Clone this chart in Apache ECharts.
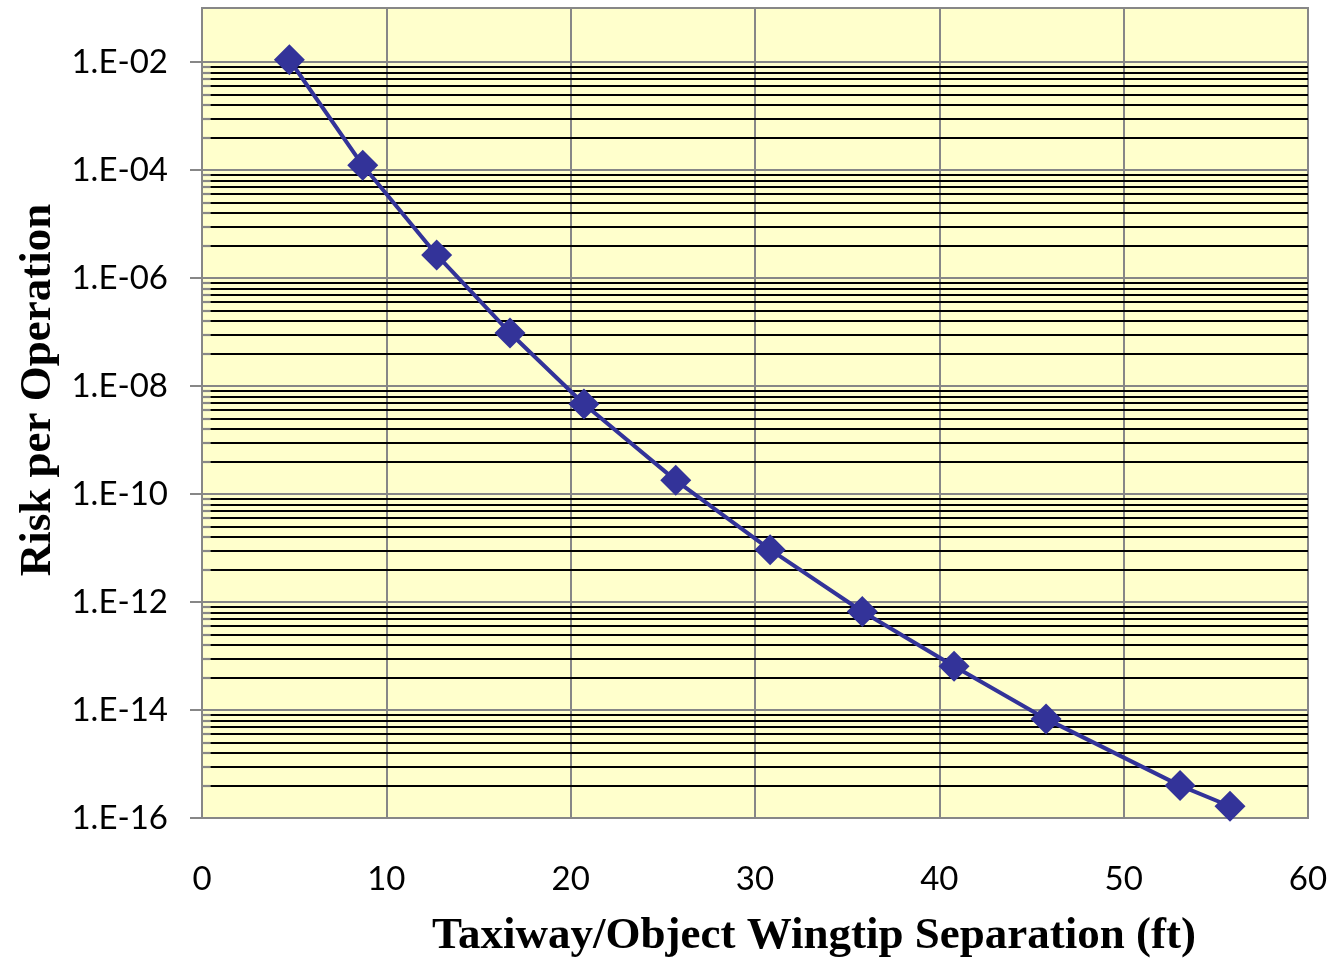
<!DOCTYPE html>
<html>
<head>
<meta charset="utf-8">
<script src="https://cdn.jsdelivr.net/npm/echarts@6/dist/echarts.min.js"></script>
<style>
  html, body { margin: 0; padding: 0; background: #ffffff; }
  #chart { width: 1332px; height: 960px; }
</style>
</head>
<body>
<div id="chart"></div>
<script>
// ---- data ----
var separationFt = [4.74, 8.72, 12.73, 16.71, 20.72, 25.7, 30.82, 35.82, 40.8, 45.79, 53.06, 55.77];
var riskPerOperation = [1.1e-2, 1.22e-4, 2.67e-6, 9.6e-8, 4.64e-9, 1.79e-10, 9.3e-12, 6.67e-13, 6.47e-14, 6.84e-15, 3.98e-16, 1.65e-16];
var yMajorTicks = [1e-16, 1e-14, 1e-12, 1e-10, 1e-8, 1e-6, 1e-4, 1e-2];
var minorMultipliers = [4, 9, 16, 25, 36, 49, 64, 81];
var minorBandBases = [1e-16, 1e-14, 1e-12, 1e-10, 1e-8, 1e-6, 1e-4];
var xTickLabels = [0, 10, 20, 30, 40, 50, 60];

var GRAY = '#878787';
var pts = separationFt.map(function (x, i) { return [x, riskPerOperation[i]]; });

var minorValues = [];
minorBandBases.forEach(function (b) {
  minorMultipliers.forEach(function (m) { minorValues.push(b * m); });
});
var minorLines = [];
minorValues.forEach(function (v) {
  minorLines.push([{ xAxis: 0.45, yAxis: v }, { xAxis: 60, yAxis: v }]);
});
var minorTicks = [];
minorValues.forEach(function (v) {
  minorTicks.push([{ xAxis: 0, yAxis: v, lineStyle: { color: GRAY } }, { xAxis: 0.45, yAxis: v }]);
});

function fmtY(v) {
  var e = Math.round(Math.log10(v));
  var s = String(Math.abs(e));
  if (s.length < 2) s = '0' + s;
  return '1.E' + (e < 0 ? '-' : '+') + s;
}

var chart = echarts.init(document.getElementById('chart'), null, { renderer: 'canvas' });
chart.setOption({
  animation: false,
  backgroundColor: '#ffffff',
  grid: {
    left: 202, right: 24, top: 8, bottom: 142,
    outerBoundsMode: 'none', containLabel: false,
    show: true, backgroundColor: '#FFFFCC', borderColor: GRAY, borderWidth: 2
  },
  xAxis: {
    type: 'value', min: 0, max: 60, interval: 10,
    name: 'Taxiway/Object Wingtip Separation (ft)',
    nameLocation: 'middle', nameGap: 96,
    nameTextStyle: { fontFamily: 'Liberation Serif', fontWeight: 'bold', fontSize: 45, color: '#000', padding: [0, 0, 0, 118] },
    axisLine: { show: true, lineStyle: { color: GRAY, width: 2 } },
    axisTick: { show: false },
    axisLabel: {
      margin: 45, fontFamily: 'Lato', fontSize: 33, color: '#000',
      customValues: xTickLabels
    },
    splitLine: { show: true, lineStyle: { color: GRAY, width: 2 } }
  },
  yAxis: {
    type: 'log', logBase: 100, min: 1e-16, max: 1e-1,
    name: 'Risk per Operation',
    nameLocation: 'middle', nameGap: 140,
    nameTextStyle: { fontFamily: 'Liberation Serif', fontWeight: 'bold', fontSize: 45, color: '#000', padding: [0, 0, 0, 46] },
    axisLine: { show: true, lineStyle: { color: GRAY, width: 2 } },
    axisTick: { show: true, length: 12, lineStyle: { color: GRAY, width: 2 }, customValues: yMajorTicks },
    axisLabel: {
      margin: 34, fontFamily: 'Lato', fontSize: 33, color: '#000',
      customValues: yMajorTicks, formatter: fmtY
    },
    splitLine: { show: true, lineStyle: { color: GRAY, width: 2 } },
    minorTick: { show: false },
    minorSplitLine: { show: false }
  },
  series: [{
    type: 'line',
    data: pts,
    z: 3,
    symbol: 'diamond',
    symbolSize: 31,
    lineStyle: { color: '#333399', width: 4 },
    itemStyle: { color: '#333399' },
    markLine: {
      silent: true, z: 1, symbol: ['none', 'none'],
      label: { show: false },
      lineStyle: { color: '#000000', width: 2.2, type: 'solid' },
      emphasis: { disabled: true },
      animation: false,
      data: minorLines.concat(minorTicks)
    }
  }]
});
</script>
</body>
</html>
